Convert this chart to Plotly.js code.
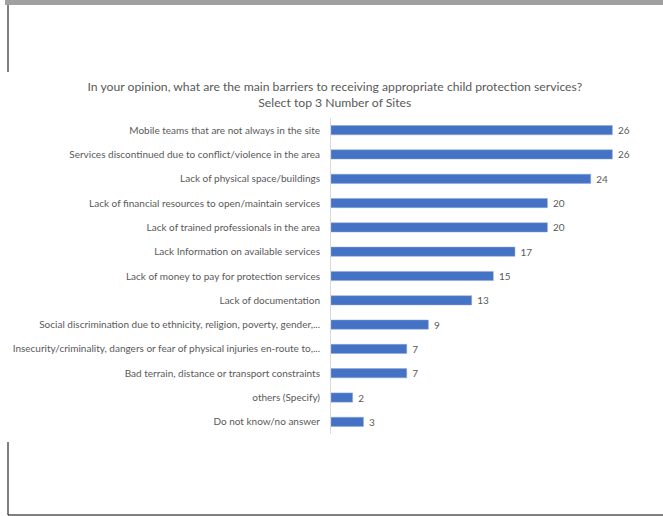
<!DOCTYPE html>
<html>
<head>
<meta charset="utf-8">
<script src="https://cdn.plot.ly/plotly-3.0.1.min.js"></script>
<style>html,body{margin:0;padding:0;background:#fff;}#chart{width:663px;height:516px;}</style>
</head>
<body>
<div id="chart"></div>
<script>
const categories = [
  "Mobile teams that are not always in the site",
  "Services discontinued due to conflict/violence in the area",
  "Lack of physical space/buildings",
  "Lack of financial resources to open/maintain services",
  "Lack of trained professionals in the area",
  "Lack Information on available services",
  "Lack of money to pay for protection services",
  "Lack of documentation",
  "Social discrimination due to ethnicity, religion, poverty, gender,...",
  "Insecurity/criminality, dangers or fear of physical injuries en-route to,...",
  "Bad terrain, distance or transport constraints",
  "others (Specify)",
  "Do not know/no answer"
];
const values = [26, 26, 24, 20, 20, 17, 15, 13, 9, 7, 7, 2, 3];
const titleText = "In your opinion, what are the main barriers to receiving appropriate child protection services?<br>Select top 3 Number of Sites";

const W = 663, H = 516;
const M = {l: 331, r: 29, t: 118, b: 82};
const pw = W - M.l - M.r, ph = H - M.t - M.b;
const px = x => (x - M.l) / pw;
const py = y => 1 - (y - M.t) / ph;
const font = "Lato, 'Open Sans', sans-serif";

const shapes = [
  {type:'rect', xref:'paper', yref:'paper', x0:px(5), x1:px(663), y0:py(0), y1:py(5), fillcolor:'#a0a0a0', line:{width:0}, layer:'below'},
  {type:'line', xref:'paper', yref:'paper', x0:px(8), x1:px(8), y0:py(5), y1:py(72), line:{color:'#000', width:1}},
  {type:'line', xref:'paper', yref:'paper', x0:px(8), x1:px(8), y0:py(442), y1:py(515), line:{color:'#000', width:1}},
  {type:'line', xref:'paper', yref:'paper', x0:px(8), x1:px(663), y0:py(515), y1:py(515), line:{color:'#000', width:1}}
];

Plotly.newPlot('chart', [{
  type: 'bar',
  orientation: 'h',
  y: categories,
  x: values,
  marker: {color: '#4472c4', line: {color: '#8fa9dc', width: 0.5}},
  width: 0.38,
  text: values.map(v => ' ' + v),
  textposition: 'outside',
  constraintext: 'none',
  cliponaxis: false,
  textfont: {family: font, size: 10, color: '#595959'},
  hoverinfo: 'none'
}], {
  width: W, height: H,
  margin: M,
  paper_bgcolor: '#fff', plot_bgcolor: '#fff',
  showlegend: false,
  title: {text: titleText, x: 0.505, xanchor: 'center', y: 1 - 91/H, yanchor: 'top',
          font: {family: font, size: 12.2, color: '#595959'}},
  xaxis: {range: [0, 28], showgrid: false, zeroline: false, showticklabels: false, showline: false, fixedrange: true},
  yaxis: {type: 'category', autorange: 'reversed', showgrid: false, zeroline: false,
          showline: true, linecolor: '#d9d9d9', linewidth: 1, ticks: '',
          ticklabelstandoff: 8,
          tickfont: {family: font, size: 10, color: '#595959'}},
  shapes: shapes
}, {staticPlot: true});
</script>
</body>
</html>
